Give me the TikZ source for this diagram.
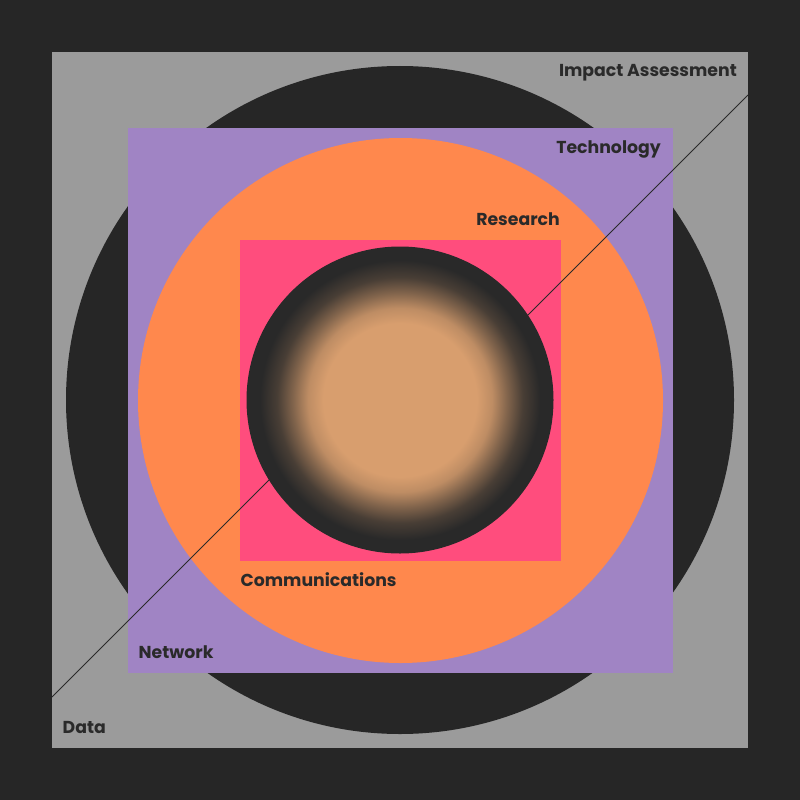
\documentclass[tikz,border=0pt]{standalone}
\usepackage{fontspec}
\setmainfont{Poppins}[BoldFont={* Bold}]
\usetikzlibrary{positioning}
\definecolor{bgdark}{HTML}{262626}
\definecolor{slate}{HTML}{9B9B9B}
\definecolor{lilac}{HTML}{A084C4}
\definecolor{tangerine}{HTML}{FF884D}
\definecolor{rose}{HTML}{FF4D7D}
\definecolor{sand}{HTML}{D89E6E}
\definecolor{coal}{HTML}{292929}
\definecolor{ink}{HTML}{2A2A2A}
\pgfdeclareradialshading{glow}{\pgfpointorigin}{color(0bp)=(sand); color(12.5bp)=(sand); color(15bp)=(sand!85!coal); color(17.5bp)=(sand!50!coal); color(20bp)=(sand!18!coal); color(22.8bp)=(coal); color(50bp)=(coal)}

\begin{document}
\begin{tikzpicture}[x=1pt, y=-1pt, tag/.style={font=\bfseries\fontsize{17.3}{19}\selectfont, text=ink, inner sep=0pt}]
	\fill[bgdark] (0,0) rectangle (800,800);
	\fill[slate] (52,52) rectangle (748,748);
	\fill[bgdark] (400,400) circle[radius=334];
	\fill[lilac] (128,128) rectangle (673,673);
	\fill[tangerine] (400.5,400.5) circle[radius=262.5];
	\fill[rose] (240,240) rectangle (561,561);
	% two 45 degree strokes, both end under the core
	\coordinate (lo) at (52,697);
	\coordinate (loend) at (300,449);
	\coordinate (hi) at (748,95);
	\coordinate (hiend) at (500,343);
	\draw[ink, line width=0.9pt] (lo) -- (loend) (hi) -- (hiend);
	\shade[shading=glow] (400,400) circle[radius=153.5];
	% labels
	\node[tag, anchor=base east] (impact) at (737,77) {Impact Assessment};
	\node[tag, anchor=base east] (tech) at (661,153) {Technology};
	\node[tag, anchor=base east] (research) at (560,225) {Research};
	\node[tag, anchor=base west] (comms) at (240.5,586) {Communications};
	\node[tag, anchor=base west] (network) at (138.5,658) {Network};
	\node[tag, anchor=base west] (data) at (62.5,733) {Data};
\end{tikzpicture}
\end{document}
